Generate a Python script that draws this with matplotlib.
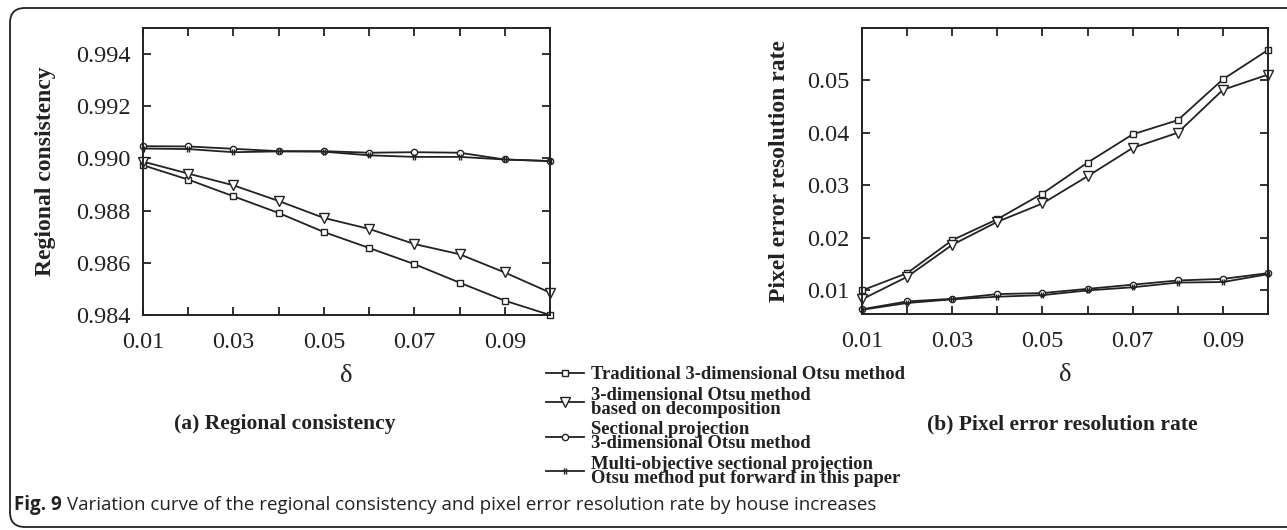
import numpy as np
import matplotlib
matplotlib.use("Agg")
import matplotlib.pyplot as plt
from matplotlib.path import Path
from matplotlib.patches import FancyBboxPatch

plt.rcParams["font.family"] = "serif"
plt.rcParams["font.serif"] = ["Liberation Serif", "DejaVu Serif"]

delta = [0.01, 0.02, 0.03, 0.04, 0.05, 0.06, 0.07, 0.08, 0.09, 0.10]

# (a) regional consistency
rc_trad = [0.98974, 0.98919, 0.98855, 0.98791, 0.98718, 0.98657, 0.98595, 0.98524, 0.98455, 0.98400]
rc_decomp = [0.98988, 0.98942, 0.98897, 0.98837, 0.98772, 0.98730, 0.98672, 0.98633, 0.98563, 0.98486]
rc_section = [0.99047, 0.99046, 0.99037, 0.99028, 0.99028, 0.99022, 0.99024, 0.99022, 0.98996, 0.98990]
rc_multi = [0.99038, 0.99036, 0.99024, 0.99027, 0.99026, 0.99012, 0.99006, 0.99006, 0.98996, 0.98990]

# (b) pixel error resolution rate
pe_trad = [0.0099, 0.0132, 0.0195, 0.0235, 0.0284, 0.0343, 0.0397, 0.0424, 0.0502, 0.0558]
pe_decomp = [0.0082, 0.0125, 0.0186, 0.0230, 0.0265, 0.0317, 0.0371, 0.0400, 0.0482, 0.0511]
pe_section = [0.0063, 0.0078, 0.0083, 0.0092, 0.0094, 0.0102, 0.0110, 0.0118, 0.0121, 0.0132]
pe_multi = [0.0062, 0.0075, 0.0082, 0.0087, 0.0090, 0.0099, 0.0105, 0.0114, 0.0115, 0.0130]

labels = ["Traditional 3-dimensional Otsu method",
          "3-dimensional Otsu method\nbased on decomposition",
          "Sectional projection\n3-dimensional Otsu method",
          "Multi-objective sectional projection\nOtsu method put forward in this paper"]

# two small vertical bars, used as the marker of the proposed method
bars = Path([(-0.4, -1), (-0.4, 1), (0.4, -1), (0.4, 1)],
            [Path.MOVETO, Path.LINETO, Path.MOVETO, Path.LINETO])
styles = [dict(marker="s", ms=4.5), dict(marker="v", ms=7),
          dict(marker="o", ms=4.5), dict(marker=bars, ms=5)]

W, H = 1287, 530
fig = plt.figure(figsize=(W / 100, H / 100), dpi=100)


def px_axes(x0, y0, x1, y1):
    return fig.add_axes([x0 / W, 1 - y1 / H, (x1 - x0) / W, (y1 - y0) / H])


def style_axes(ax):
    ax.set_xlim(0.01, 0.10)
    ax.set_xticks(np.arange(0.01, 0.1001, 0.01))
    ax.set_xticklabels(["0.01", "", "0.03", "", "0.05", "", "0.07", "", "0.09", ""])
    ax.tick_params(direction="in", length=6, width=1.3, top=True, right=True,
                   labelsize=17.5, pad=12, color="#222222", labelcolor="#222222")
    ax.tick_params(axis="y", pad=9)
    for s in ax.spines.values():
        s.set_linewidth(1.4)
        s.set_color("#222222")
    ax.set_xlabel("δ", fontsize=19, labelpad=9, color="#222222")


def draw(ax, series):
    hs = []
    for ys, st in zip(series, styles):
        h, = ax.plot(delta, ys, color="#222222", lw=1.3, mfc="white", mec="#222222",
                     mew=1.0, clip_on=False, **st)
        hs.append(h)
    return hs

ax1 = px_axes(143, 28, 550, 315)
handles = draw(ax1, [rc_trad, rc_decomp, rc_section, rc_multi])
style_axes(ax1)
ax1.set_ylim(0.984, 0.995)
ax1.set_yticks([0.984, 0.986, 0.988, 0.990, 0.992, 0.994])
ax1.set_yticklabels(["0.984", "0.986", "0.988", "0.990", "0.992", "0.994"])
ax1.set_ylabel("Regional consistency", fontsize=17, fontweight="bold", labelpad=14,
               color="#222222")

ax2 = px_axes(862, 28, 1268, 314)
draw(ax2, [pe_trad, pe_decomp, pe_section, pe_multi])
style_axes(ax2)
ax2.set_ylim(0.0054, 0.06)
ax2.set_yticks([0.01, 0.02, 0.03, 0.04, 0.05])
ax2.set_yticklabels(["0.01", "0.02", "0.03", "0.04", "0.05"])
ax2.set_ylabel("Pixel error resolution rate", fontsize=17, fontweight="bold", labelpad=12,
               color="#222222")

fig.text(285 / W, 1 - 424 / H, "(a) Regional consistency", fontsize=15.5,
         fontweight="bold", ha="center", va="center", color="#222222")
fig.text(1062 / W, 1 - 424 / H, "(b) Pixel error resolution rate", fontsize=15.5,
         fontweight="bold", ha="center", va="center", color="#222222")

leg = fig.legend(handles, labels, loc="upper left", bbox_to_anchor=(537 / W, 1 - 357 / H),
                 frameon=False, prop=dict(weight="bold", size=13.4),
                 handlelength=2.0, handletextpad=0.42, labelspacing=0.18, borderpad=0,
                 numpoints=1)
for t in leg.get_texts():
    t.set_linespacing(0.78)
    t.set_color("#222222")

# rounded frame around the figure and the caption
frame = FancyBboxPatch((0.10, 0.03), 13.4, 5.19, boxstyle="round,pad=0,rounding_size=0.15",
                       transform=fig.dpi_scale_trans, fill=False, lw=1.3, ec="#222222",
                       clip_on=False)
fig.add_artist(frame)
cap = fig.text(14 / W, 1 - 505 / H, "Fig. 9", fontsize=13.5, fontweight="bold",
               family="Open Sans", va="center", ha="left", color="#222222")
fig.canvas.draw()
bb = cap.get_window_extent()
fig.text((bb.x1 + 5) / W, 1 - 505 / H,
         "Variation curve of the regional consistency and pixel error resolution rate by house increases",
         fontsize=13.5, family="Open Sans", va="center", ha="left", color="#222222")

fig.savefig("out.png", dpi=100)
